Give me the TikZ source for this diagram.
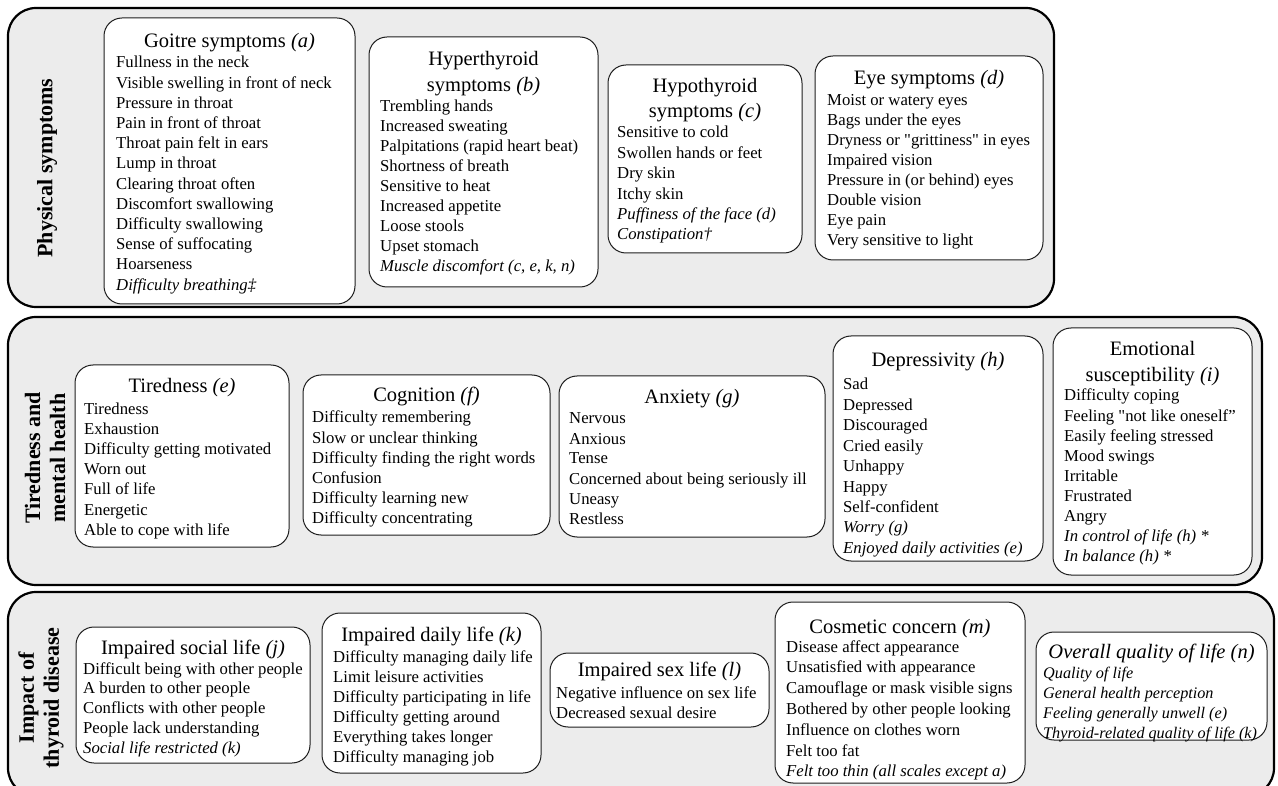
\documentclass[tikz,border=0pt]{standalone}
\usepackage{fontspec}
\setmainfont{Liberation Serif}
\definecolor{bandgray}{RGB}{236,236,236}
\definecolor{boxline}{RGB}{30,30,30}
\newcommand\mkbox[5]{\node[catbox, anchor=north west, minimum width={#4-#2}, minimum height={#5-#3}] (#1) at (#2,#3) {};}
\newcommand\mkitems[5]{\foreach \itx [count=\i] in {#5} {\node[itm] (#1-\i) at (#2, {#3+(\i-1)*#4}) {\itx};}}
\begin{document}
\begin{tikzpicture}[x=1pt,y=-1pt,
  band/.style={draw=black, line width=2.2pt, fill=bandgray, rounded corners=28pt},
  catbox/.style={draw=boxline, line width=1pt, fill=white, rounded corners=18pt, inner sep=0pt, outer sep=0pt},
  ttl/.style={font=\fontsize{20.5}{24}\selectfont, inner sep=0pt, anchor=base},
  itm/.style={font=\fontsize{16.7}{20}\selectfont, inner sep=0pt, anchor=base west},
  itmsmall/.style={itm, font=\fontsize{16.2}{20}\selectfont},
  lbl/.style={font=\bfseries\fontsize{22}{25}\selectfont, rotate=90, align=center, inner sep=0pt}]
\useasboundingbox (0,0) rectangle (1278,786);
\clip (0,0) rectangle (1278,786);

% bands
\path[band] (8,8) rectangle (1054,307);
\path[band] (8,317) rectangle (1262,585);
\path[band] (8,592) rectangle (1274,796);

\node[lbl] (physlbl) at (47,168) {Physical symptoms};
\node[lbl] (mentlbl) at (45,458) {Tiredness and\\mental health};
\node[lbl] (implbl) at (41,698) {Impact of\\thyroid disease};

% ---- Physical symptoms
\mkbox{goitre}{104}{18}{355}{304}
\node[ttl] (goitreT) at (229.5,48) {Goitre symptoms \textit{(a)}};
\mkitems{goitre}{116}{68}{20.2}{Fullness in the neck, Visible swelling in front of neck, Pressure in throat, Pain in front of throat, Throat pain felt in ears, Lump in throat, Clearing throat often, Discomfort swallowing, Difficulty swallowing, Sense of suffocating, Hoarseness, \textit{Difficulty breathing‡}}

\mkbox{hyper}{369}{37}{598}{287}
\node[ttl] (hyperT1) at (483.5,66) {Hyperthyroid};
\node[ttl] (hyperT2) at (483.5,92) {symptoms \textit{(b)}};
\mkitems{hyper}{380}{112}{20}{Trembling hands, Increased sweating, Palpitations (rapid heart beat), Shortness of breath, Sensitive to heat, Increased appetite, Loose stools, Upset stomach, {\textit{Muscle discomfort (c, e, k, n)}}}

\mkbox{hypo}{608}{65}{802}{253}
\node[ttl] (hypoT1) at (705,93) {Hypothyroid};
\node[ttl] (hypoT2) at (705,118) {symptoms \textit{(c)}};
\mkitems{hypo}{617}{138}{20.4}{Sensitive to cold, Swollen hands or feet, Dry skin, Itchy skin, \textit{Puffiness of the face (d)}, \textit{Constipation†}}

\mkbox{eye}{815}{56}{1043}{260}
\node[ttl] (eyeT) at (929,85) {Eye symptoms \textit{(d)}};
\mkitems{eye}{827}{106}{20}{Moist or watery eyes, Bags under the eyes, Dryness or \textquotedbl grittiness\textquotedbl{} in eyes, Impaired vision, Pressure in (or behind) eyes, Double vision, Eye pain, Very sensitive to light}

% ---- Tiredness and mental health
\mkbox{tired}{75}{365}{289}{547}
\node[ttl] (tiredT) at (182,393) {Tiredness \textit{(e)}};
\mkitems{tired}{84}{414}{20.2}{Tiredness, Exhaustion, Difficulty getting motivated, Worn out, Full of life, Energetic, Able to cope with life}

\mkbox{cogn}{303}{375}{550}{535}
\node[ttl] (cognT) at (426.5,402) {Cognition \textit{(f)}};
\mkitems{cogn}{312}{423}{20}{Difficulty remembering, Slow or unclear thinking, Difficulty finding the right words, Confusion, Difficulty learning new, Difficulty concentrating}

\mkbox{anx}{559}{376}{825}{537}
\node[ttl] (anxT) at (692,404) {Anxiety \textit{(g)}};
\mkitems{anx}{569}{424}{20}{Nervous, Anxious, Tense, Concerned about being seriously ill, Uneasy, Restless}

\mkbox{depr}{833}{336}{1043}{561}
\node[ttl] (deprT) at (938,367) {Depressivity \textit{(h)}};
\mkitems{depr}{843}{390}{20.4}{Sad, Depressed, Discouraged, Cried easily, Unhappy, Happy, Self-confident, \textit{Worry (g)}, \textit{Enjoyed daily activities (e)}}

\mkbox{emot}{1053}{328}{1252}{575}
\node[ttl] (emotT1) at (1152.5,356) {Emotional};
\node[ttl] (emotT2) at (1152.5,382) {susceptibility \textit{(i)}};
\mkitems{emot}{1064}{401}{20.1}{Difficulty coping, Feeling \textquotedbl not like oneself”, Easily feeling stressed, Mood swings, Irritable, Frustrated, Angry, \textit{In control of life (h) *}, \textit{In balance (h) *}}

% ---- Impact of thyroid disease
\mkbox{social}{76}{627}{310}{763}
\node[ttl] (socialT) at (193,654) {Impaired social life \textit{(j)}};
\mkitems{social}{83}{674}{19.75}{Difficult being with other people, A burden to other people, Conflicts with other people, People lack understanding, \textit{Social life restricted (k)}}

\mkbox{daily}{322}{613}{541}{773}
\node[ttl] (dailyT) at (431.5,641) {Impaired daily life \textit{(k)}};
\mkitems{daily}{333}{662}{20}{Difficulty managing daily life, Limit leisure activities, Difficulty participating in life, Difficulty getting around, Everything takes longer, Difficulty managing job}

\mkbox{sex}{550}{653}{769}{727}
\node[ttl] (sexT) at (659.5,676) {Impaired sex life \textit{(l)}};
\mkitems{sex}{556}{698}{20}{Negative influence on sex life, Decreased sexual desire}

\mkbox{cosm}{775}{602}{1025}{783}
\node[ttl] (cosmT) at (900,633) {Cosmetic concern \textit{(m)}};
\mkitems{cosm}{786}{652}{20.8}{Disease affect appearance, Unsatisfied with appearance, Camouflage or mask visible signs, Bothered by other people looking, Influence on clothes worn, Felt too fat, \textit{Felt too thin (all scales except a)}}

\mkbox{overall}{1036}{632}{1267}{740}
\node[ttl] (overallT) at (1151.5,658) {\textit{Overall quality of life (n)}};
\foreach \itx [count=\i] in {\textit{Quality of life}, \textit{General health perception}, \textit{Feeling generally unwell (e)}, \textit{Thyroid-related quality of life (k)}}
  {\node[itmsmall] (overall-\i) at (1043, {678+(\i-1)*20}) {\itx};}
\end{tikzpicture}
\end{document}
